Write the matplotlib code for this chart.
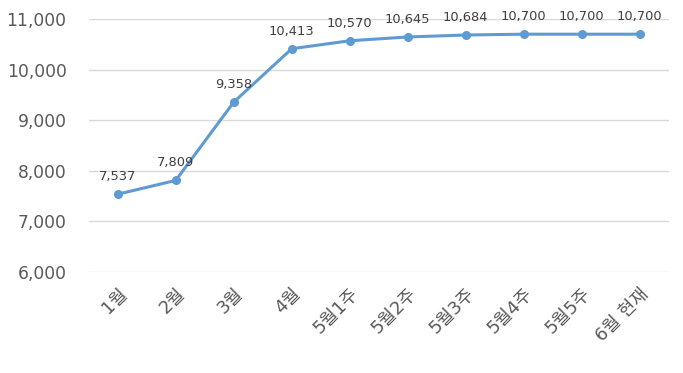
#!/usr/bin/env python3

import matplotlib.pyplot as plt

plt.rcParams['font.family'] = ['DejaVu Sans', 'Noto Sans CJK KR']

## Data
periods = ['1월', '2월', '3월', '4월', '5월1주', '5월2주', '5월3주', '5월4주', '5월5주', '6월 현재']
counts = [7537, 7809, 9358, 10413, 10570, 10645, 10684, 10700, 10700, 10700]
y_ticks = [6000, 7000, 8000, 9000, 10000, 11000]

line_color = '#5f9bd3'
text_color = '#595959'

fig = plt.figure(figsize=(6.83, 3.73), dpi=100)
ax = fig.add_axes([0.130, 0.271, 0.849, 0.678])

xs = list(range(len(periods)))
ax.plot(xs, counts, color=line_color, lw=2.2, marker='o', ms=5.5, zorder=3)

for x, y in zip(xs, counts):
  ax.annotate('{:,}'.format(y), (x, y), xytext=(0, 8), textcoords='offset points',
              ha='center', va='bottom', fontsize=9.4, color='#404040', zorder=4)

ax.set_xlim(-0.5, len(periods) - 0.5)
ax.set_ylim(6000, 11000)
ax.set_yticks(y_ticks)
ax.set_yticklabels(['{:,}'.format(v) for v in y_ticks], fontsize=12.3, color=text_color)
ax.set_xticks(xs)
ax.set_xticklabels(periods, rotation=45, ha='right', rotation_mode='anchor',
                   fontsize=13, color=text_color)
ax.tick_params(axis='both', length=0)
ax.tick_params(axis='y', pad=16)
ax.tick_params(axis='x', pad=9)

ax.grid(axis='y', color='#d9d9d9', lw=1)
ax.set_axisbelow(True)
for side in ['top', 'right', 'left', 'bottom']:
  ax.spines[side].set_visible(False)

fig.savefig('out.png', dpi=100)
